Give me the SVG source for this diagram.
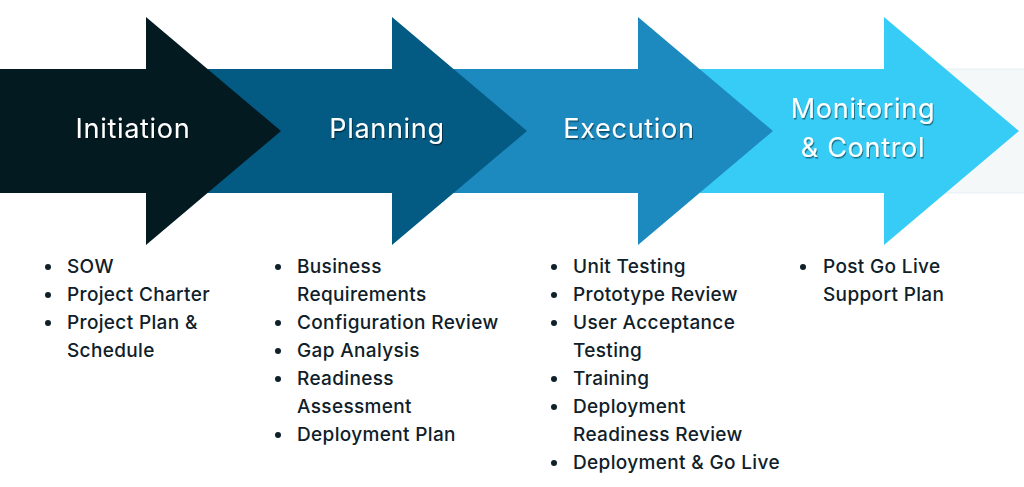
<svg xmlns="http://www.w3.org/2000/svg" width="1024" height="487" viewBox="0 0 1024 487">
<defs>
<filter id="sh" x="-10%" y="-20%" width="120%" height="140%">
<feDropShadow dx="1" dy="1.5" stdDeviation="0.6" flood-color="#000" flood-opacity="0.45"/>
</filter>
</defs>
<style>
.title{font-family:Inter,"Liberation Sans",sans-serif;font-size:27px;letter-spacing:0.7px;fill:#fff;text-anchor:middle;filter:url(#sh)}
.item{font-family:Inter,"Liberation Sans",sans-serif;font-size:19px;font-weight:500;letter-spacing:0.35px;fill:#0f2029}
.dot{fill:#0f2029}
</style>
<rect width="1024" height="487" fill="#fff"/>
<rect x="900" y="69" width="130" height="124" fill="#f5f8f9" stroke="#e4eef2" stroke-width="1"/>
<g id="monitoring">
<polygon points="700,69 884,69 884,17 1019,131 884,245 884,193 700,193" fill="#36ccf6"/>
<text class="title" x="863" y="118">Monitoring</text>
<text class="title" x="863" y="157">&amp; Control</text>
</g>
<g id="execution">
<polygon points="450,69 638,69 638,17 773,131 638,245 638,193 450,193" fill="#1c8abf"/>
<text class="title" x="629" y="138">Execution</text>
</g>
<g id="planning">
<polygon points="200,69 392,69 392,17 527,131 392,245 392,193 200,193" fill="#035a83"/>
<text class="title" x="387" y="138">Planning</text>
</g>
<g id="initiation">
<polygon points="0,69 146,69 146,17 281,131 146,245 146,193 0,193" fill="#031a21"/>
<text class="title" x="133" y="138">Initiation</text>
</g>
<g id="list-initiation">
<circle class="dot" cx="48" cy="267" r="3"/>
<circle class="dot" cx="48" cy="295" r="3"/>
<circle class="dot" cx="48" cy="323" r="3"/>
<text class="item" x="67" y="273">SOW</text>
<text class="item" x="67" y="301">Project Charter</text>
<text class="item" x="67" y="329">Project Plan &amp;</text>
<text class="item" x="67" y="357">Schedule</text>
</g>
<g id="list-planning">
<circle class="dot" cx="278" cy="267" r="3"/>
<circle class="dot" cx="278" cy="323" r="3"/>
<circle class="dot" cx="278" cy="351" r="3"/>
<circle class="dot" cx="278" cy="379" r="3"/>
<circle class="dot" cx="278" cy="435" r="3"/>
<text class="item" x="297" y="273">Business</text>
<text class="item" x="297" y="301">Requirements</text>
<text class="item" x="297" y="329">Configuration Review</text>
<text class="item" x="297" y="357">Gap Analysis</text>
<text class="item" x="297" y="385">Readiness</text>
<text class="item" x="297" y="413">Assessment</text>
<text class="item" x="297" y="441">Deployment Plan</text>
</g>
<g id="list-execution">
<circle class="dot" cx="554" cy="267" r="3"/>
<circle class="dot" cx="554" cy="295" r="3"/>
<circle class="dot" cx="554" cy="323" r="3"/>
<circle class="dot" cx="554" cy="379" r="3"/>
<circle class="dot" cx="554" cy="407" r="3"/>
<circle class="dot" cx="554" cy="463" r="3"/>
<text class="item" x="573" y="273">Unit Testing</text>
<text class="item" x="573" y="301">Prototype Review</text>
<text class="item" x="573" y="329">User Acceptance</text>
<text class="item" x="573" y="357">Testing</text>
<text class="item" x="573" y="385">Training</text>
<text class="item" x="573" y="413">Deployment</text>
<text class="item" x="573" y="441">Readiness Review</text>
<text class="item" x="573" y="469">Deployment &amp; Go Live</text>
</g>
<g id="list-monitoring">
<circle class="dot" cx="803" cy="267" r="3"/>
<text class="item" x="823" y="273">Post Go Live</text>
<text class="item" x="823" y="301">Support Plan</text>
</g>
</svg>
